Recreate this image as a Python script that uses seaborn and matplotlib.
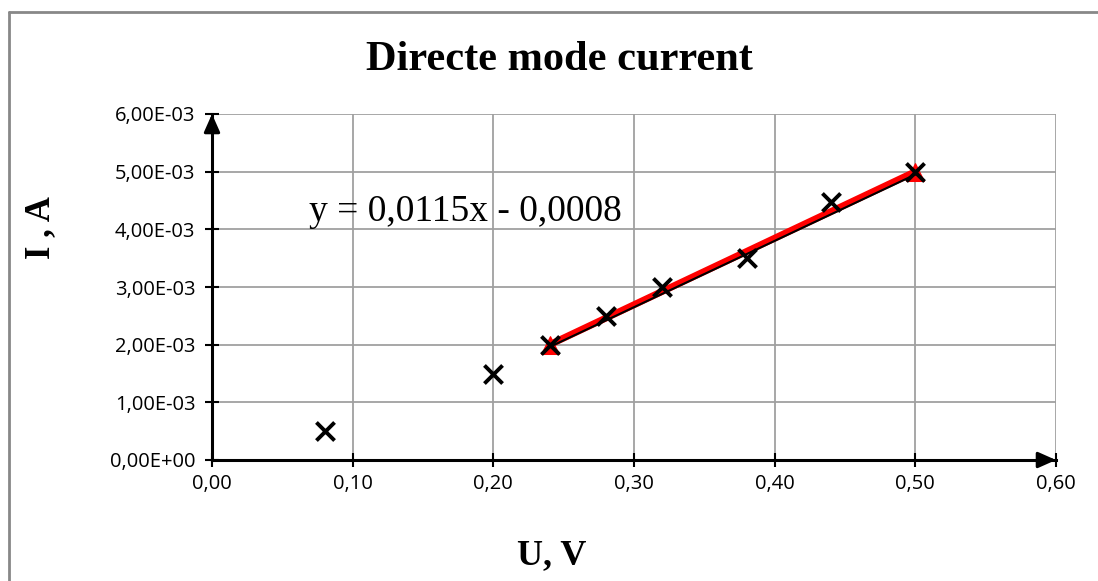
import numpy as np
import pandas as pd
import matplotlib
matplotlib.use("Agg")
import matplotlib.pyplot as plt
import seaborn as sns
from matplotlib.lines import Line2D

# Data
u_values = [0.08, 0.20, 0.24, 0.28, 0.32, 0.38, 0.44, 0.50]
i_values = [0.0005, 0.0015, 0.0020, 0.0025, 0.0030, 0.0035, 0.00447, 0.0050]
fit_u = [0.24, 0.50]
fit_i = [0.0020, 0.0050]
trend_slope = 0.0115
trend_intercept = -0.0008
x_ticks = [0.0, 0.1, 0.2, 0.3, 0.4, 0.5, 0.6]
y_ticks = [0.0, 0.001, 0.002, 0.003, 0.004, 0.005, 0.006]
title = "Directe mode current"
x_label = "U, V"
y_label = "I , A"
equation = "y = 0,0115x - 0,0008"

sns.set_theme(style="white")
plt.rcParams['font.family'] = ['Open Sans', 'DejaVu Sans']

fig = plt.figure(figsize=(10.98, 5.81), dpi=100)
ax = fig.add_axes([212/1098, 1-460/581, (1056-212)/1098, (460-114)/581])

df = pd.DataFrame({"U": u_values, "I": i_values})
dfit = pd.DataFrame({"U": fit_u, "I": fit_i})

# red series with triangle markers
sns.lineplot(data=dfit, x="U", y="I", ax=ax, color="red", lw=5, marker="^",
             markersize=13, markeredgecolor="red", zorder=3)
# black linear trendline
tx = np.array(fit_u)
sns.lineplot(x=tx, y=trend_slope*tx + trend_intercept, ax=ax, color="black", lw=1.5, zorder=4)
# data points
sns.scatterplot(data=df, x="U", y="I", ax=ax, marker="x", s=170, color="black",
                linewidth=2.8, zorder=5)

ax.set_xlim(0, 0.6)
ax.set_ylim(0, 0.006)
ax.set_xticks(x_ticks)
ax.set_yticks(y_ticks)
ax.set_xticklabels([f"{v:.2f}".replace('.', ',') for v in x_ticks])
ax.set_yticklabels([f"{v:.2E}".replace('.', ',') for v in y_ticks])
ax.tick_params(axis='both', labelsize=14.5, direction='inout', length=10, width=1.5,
               color='black', labelcolor='black', bottom=True, left=True)
ax.tick_params(axis='y', pad=7)
ax.tick_params(axis='x', pad=5)

ax.grid(True, color='#a0a0a0', lw=1.3)
ax.set_axisbelow(True)
for s in ['top', 'right']:
    ax.spines[s].set_visible(False)
for s in ['left', 'bottom']:
    ax.spines[s].set_color('black')
    ax.spines[s].set_linewidth(2.2)
# arrow heads on axes
arrow = dict(arrowstyle='-|>,head_length=0.9,head_width=0.4', color='black', lw=2.2,
             shrinkA=0, shrinkB=0)
ax.annotate('', xy=(0, 1.0), xytext=(0, 0.97), xycoords='axes fraction', arrowprops=arrow)
ax.annotate('', xy=(1.0, 0), xytext=(0.988, 0), xycoords='axes fraction', arrowprops=arrow)

ax.set_xlabel("")
ax.set_ylabel("")

serif = ['Liberation Serif', 'DejaVu Serif']
fig.text(559/1098, 1-60/581, title, family=serif, fontweight='bold', fontsize=30.5,
         ha='center', va='center', color='black')
fig.text(552/1098, 1-556/581, x_label, family=serif, fontweight='bold', fontsize=26,
         ha='center', va='center', color='black')
fig.text(41/1098, 1-228/581, y_label, family=serif, fontweight='bold', fontsize=25,
         ha='center', va='center', rotation=90, color='black')
fig.text(309/1098, 1-212/581, equation, family=serif, fontsize=27,
         ha='left', va='center', color='black')

# chart area border (top and left visible)
fig.add_artist(Line2D([9/1098, 9/1098], [0, 1-12/581], transform=fig.transFigure,
                      color='#888888', lw=2))
fig.add_artist(Line2D([9/1098, 1.0], [1-12/581, 1-12/581], transform=fig.transFigure,
                      color='#888888', lw=2))

fig.savefig("out.png", dpi=100)
